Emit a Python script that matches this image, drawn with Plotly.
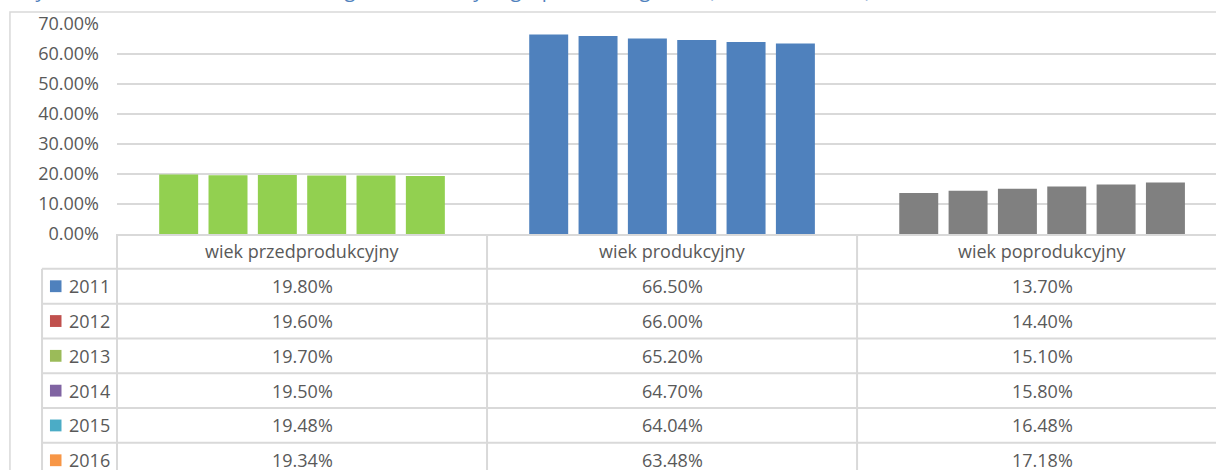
import plotly.graph_objects as go

categories = ['wiek przedprodukcyjny', 'wiek produkcyjny', 'wiek poprodukcyjny']
years = ['2011', '2012', '2013', '2014', '2015', '2016']

# udział procentowy w każdym roku (przed / prod / popr)
y2011 = [19.80, 66.50, 13.70]
y2012 = [19.60, 66.00, 14.40]
y2013 = [19.70, 65.20, 15.10]
y2014 = [19.50, 64.70, 15.80]
y2015 = [19.48, 64.04, 16.48]
y2016 = [19.34, 63.48, 17.18]
values = [y2011, y2012, y2013, y2014, y2015, y2016]

TITLE = 'Wykres 7. Struktura ludności według ekonomicznych grup wieku w gminie (lata 2011 – 2016)'

BAR_COLORS = ['#92d050', '#4f81bd', '#808080']
YEAR_COLORS = ['#4f81bd', '#c0504d', '#9bbb59', '#8064a2', '#4bacc6', '#f79646']
GRID = '#d9d9d9'
TEXT = '#595959'
FONT = 'Open Sans'
FS = 18

# pozycje tabeli / legendy w układzie "paper"
LEG_LEFT = -0.0682
KEY_X0, KEY_X1 = -0.061, -0.0505
LEG_TEXT_X = -0.0455
ROWS_SHOWN = 6.78

fig = go.Figure()
for year, vals in zip(years, values):
    fig.add_trace(go.Bar(x=categories, y=vals, name=year, marker_color=BAR_COLORS,
                         marker_line_width=0, showlegend=False))

# pusty ślad, żeby oś tabeli (y2) miała swój wykres
fig.add_trace(go.Scatter(x=[], y=[], xaxis='x', yaxis='y2', showlegend=False, hoverinfo='skip'))

annotations = []
shapes = []

# nagłówki kolumn
for cat in categories:
    annotations.append(dict(x=cat, y=0.5, xref='x', yref='y2', text=cat, showarrow=False,
                            font=dict(family=FONT, size=FS, color=TEXT)))

# wiersze tabeli
for r, (year, vals) in enumerate(zip(years, values)):
    for cat, v in zip(categories, vals):
        annotations.append(dict(x=cat, y=r + 1.5, xref='x', yref='y2', text=f'{v:.2f}%',
                                showarrow=False, font=dict(family=FONT, size=FS, color=TEXT)))
    annotations.append(dict(x=LEG_TEXT_X, y=r + 1.5, xref='paper', yref='y2', text=year,
                            xanchor='left', showarrow=False, font=dict(family=FONT, size=FS, color=TEXT)))
    shapes.append(dict(type='rect', xref='paper', yref='y2', x0=KEY_X0, x1=KEY_X1,
                       y0=r + 1.33, y1=r + 1.67, fillcolor=YEAR_COLORS[r], line_width=0))

# linie tabeli
for r in range(1, len(years) + 1):
    shapes.append(dict(type='line', xref='paper', yref='y2', x0=LEG_LEFT, x1=1.05, y0=r, y1=r,
                       line=dict(color=GRID, width=2)))
shapes.append(dict(type='line', xref='paper', yref='y2', x0=LEG_LEFT, x1=LEG_LEFT, y0=1, y1=8,
                   line=dict(color=GRID, width=2)))
shapes.append(dict(type='line', xref='paper', yref='y2', x0=0, x1=0, y0=0, y1=8,
                   line=dict(color=GRID, width=2)))
for i in range(1, len(categories)):
    shapes.append(dict(type='line', xref='x', yref='y2', x0=i - 0.5, x1=i - 0.5, y0=0, y1=8,
                       line=dict(color=GRID, width=2)))

# ramka obszaru wykresu
shapes.append(dict(type='rect', xref='paper', yref='paper', x0=-0.0974, x1=1.2, y0=-0.3, y1=1.0269,
                   line=dict(color=GRID, width=1.5)))

# tytuł (ucięty u góry)
annotations.append(dict(x=-0.0928, y=1, xref='paper', yref='paper', xanchor='left', yanchor='bottom',
                        yshift=19, text=TITLE, showarrow=False,
                        font=dict(family=FONT, size=20, color='#4f81bd')))

fig.update_layout(
    width=1216, height=470,
    margin=dict(l=117, r=0, t=24, b=0, autoexpand=False),
    paper_bgcolor='white', plot_bgcolor='white',
    barmode='group', bargap=0.2, bargroupgap=0.21,
    font=dict(family=FONT, size=FS, color=TEXT),
    xaxis=dict(range=[-0.5, 2.47], showticklabels=False, ticks='', showgrid=False,
               showline=True, linecolor=GRID, linewidth=2, zeroline=False),
    yaxis=dict(domain=[0.5291, 1], range=[0, 70], dtick=10, tickformat='.2f', ticksuffix='%',
               showgrid=True, gridcolor=GRID, gridwidth=1.5, zeroline=False, ticks='',
               ticklabelstandoff=17, tickfont=dict(family=FONT, size=FS, color=TEXT)),
    yaxis2=dict(domain=[0, 0.5291], range=[ROWS_SHOWN, 0], anchor='x', visible=False,
                showgrid=False, zeroline=False),
    annotations=annotations,
    shapes=shapes,
)

# bez domyślnego marginesu strony, żeby wykres zaczynał się w (0, 0)
fig.write_html('out.html', config={'displayModeBar': False},
               post_script="document.body.style.margin='0';document.body.style.overflow='hidden';")
